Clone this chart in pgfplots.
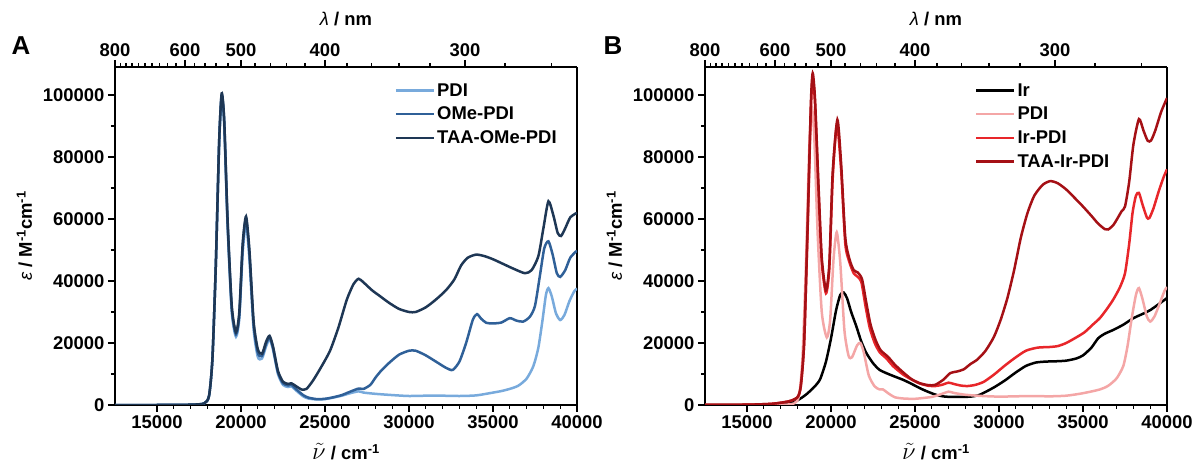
\documentclass[border=0pt]{standalone}
\usepackage{pgfplots}
\pgfplotsset{compat=1.18}
\usepackage{fontspec}
\setmainfont{Liberation Sans}
\definecolor{pdiA}{HTML}{78AADC}
\definecolor{omeA}{HTML}{2F6098}
\definecolor{taaA}{HTML}{1E3755}
\definecolor{pdiB}{HTML}{F4A6A6}
\definecolor{irpdi}{HTML}{E8262A}
\definecolor{taaB}{HTML}{A51015}
\newcommand{\fs}{\bfseries\fontsize{18.5}{20}\selectfont}
\pgfplotsset{
  mainax/.style={
    anchor=south west, width=462bp, height=338bp, scale only axis,
    xmin=12500, xmax=40000, ymin=0, ymax=109000,
    xtick={15000,20000,25000,30000,35000,40000},
    xticklabels={15000,20000,25000,30000,35000,40000},
    minor x tick num=4,
    ytick={0,20000,40000,60000,80000,100000},
    yticklabels={0,20000,40000,60000,80000,100000},
    minor y tick num=1,
    tick pos=left, tick align=outside,
    major tick length=7bp, minor tick length=4bp,
    scaled ticks=false,
    tick label style={font=\fs},
    label style={font=\fs},
    every tick/.style={black, line width=1.3bp},
    separate axis lines,
    axis line style={line width=1.8bp},
    xlabel={{\fontsize{23}{24}\selectfont$\tilde{\nu}$} / cm\textsuperscript{-1}},
    xlabel style={at={(axis description cs:0.5,-0.138)}, anchor=center},
    ylabel={{\mdseries\itshape ε} / M\textsuperscript{-1}cm\textsuperscript{-1}},
    ylabel style={at={(axis description cs:-0.196,0.5)}, anchor=center, rotate=0},
    legend style={draw=none, fill=none, font=\fs, row sep=5.5bp, inner sep=0pt, cells={anchor=west}},
    legend image code/.code={\draw[##1, line width=2.5bp] (0bp,0bp) -- (38bp,0bp);},
  },
  topax/.style={
    anchor=south west, width=462bp, height=338bp, scale only axis,
    xmin=12500, xmax=40000, ymin=0, ymax=1,
    axis x line*=top, axis y line=none,
    scaled ticks=false,
    xtick={12500,16666.67,20000,25000,33333.33},
    xticklabels={800,600,500,400,300},
    minor xtick={12820.5,13157.9,13513.5,13888.9,14285.7,14705.9,15151.5,15625,16129,17241.4,17857.1,18518.5,19230.8,20833.3,21739.1,22727.3,23809.5,26315.8,27777.8,29411.8,31250,35714.3,38461.5},
    tick align=outside,
    major tick length=7bp, minor tick length=4bp,
    tick label style={font=\fs},
    label style={font=\fs},
    every tick/.style={black, line width=1.3bp},
    axis line style={line width=1.8bp},
    xlabel={{\mdseries\itshape λ} / nm},
    xlabel style={at={(axis description cs:0.5,1.143)}, anchor=center},
  },
  cv/.style={line width=2.5bp, smooth, tension=0.4},
}
\begin{document}
\begin{tikzpicture}
\useasboundingbox (0bp,0bp) rectangle (1196bp,463bp);
% ---------------- Panel A
\begin{axis}[mainax, at={(115bp,58bp)}, legend style={at={(0.605,0.958)}, anchor=north west}]
\addplot[cv, pdiA] coordinates {
(12500,0)(15000,0)(17000,100)(17800,500)(18100,3000)(18300,15000)(18500,45000)(18700,84000)(18850,99500)(19000,90500)(19200,58000)(19450,30000)(19700,22000)(19900,28000)(20100,49000)(20300,58500)(20500,47000)(20750,24500)(21000,15500)(21250,15000)(21500,19000)(21700,21200)(21900,18000)(22200,10000)(22500,6500)(22800,5800)(23000,6000)(23300,4600)(23700,2800)(24000,2100)(24500,1800)(25000,1900)(25500,2400)(26000,3000)(26500,3800)(27000,4400)(27300,4000)(28000,3600)(29000,3200)(30000,2900)(31000,3000)(32000,3000)(33000,2900)(34000,3100)(35000,4000)(35500,4500)(36000,5200)(36500,6200)(37000,8500)(37400,12500)(37700,18500)(37950,27500)(38150,35500)(38300,37700)(38500,35000)(38750,29500)(39000,27400)(39250,29000)(39550,33500)(39850,36800)(40000,37500)};
\addlegendentry{PDI}
\addplot[cv, omeA] coordinates {
(12500,0)(15000,0)(17000,100)(17800,500)(18100,3000)(18300,15000)(18500,45000)(18700,85000)(18850,100000)(19000,91500)(19200,59000)(19450,31000)(19700,22800)(19900,29000)(20100,51000)(20300,60000)(20500,49000)(20750,26000)(21000,16800)(21250,15800)(21500,19800)(21700,21800)(21900,18500)(22200,10500)(22500,7000)(22800,6300)(23000,6500)(23300,5000)(23700,3200)(24000,2400)(24500,1900)(25000,2000)(25500,2500)(26000,3200)(26500,4300)(27000,5300)(27300,5200)(27700,6500)(28000,8800)(28300,10800)(28800,13500)(29400,16200)(30000,17500)(30400,17500)(31000,16000)(31600,14000)(32200,12000)(32600,11300)(33000,14000)(33400,20000)(33800,27500)(34050,29300)(34300,27800)(34600,26500)(35000,26300)(35500,26600)(36000,28000)(36400,27200)(36800,26900)(37200,28500)(37500,32000)(37800,42000)(38050,50500)(38300,52800)(38550,48500)(38800,42500)(39000,41300)(39300,43500)(39600,47500)(40000,49800)};
\addlegendentry{OMe-PDI}
\addplot[cv, taaA] coordinates {
(12500,0)(15000,0)(17000,100)(17800,500)(18100,3000)(18300,15000)(18500,45000)(18700,85000)(18850,100500)(19000,92000)(19200,60000)(19450,32000)(19700,23500)(19900,30000)(20100,52000)(20300,60800)(20500,50000)(20750,27000)(21000,18000)(21250,16500)(21500,20500)(21700,22300)(21900,19000)(22200,11000)(22500,7500)(22800,6800)(23000,7000)(23300,6000)(23600,5000)(23900,5200)(24300,8000)(24800,12500)(25300,17500)(25800,25000)(26300,34000)(26700,39000)(27000,40700)(27300,39500)(27800,37000)(28300,35000)(28800,33000)(29400,31000)(30000,30000)(30400,30000)(31000,31500)(31600,34000)(32200,37000)(32700,40500)(33100,45000)(33500,47500)(34000,48500)(34500,48000)(35000,47000)(35600,45500)(36200,44000)(36900,42500)(37300,43500)(37700,48000)(38000,57000)(38300,65700)(38600,61000)(38850,55500)(39050,54500)(39300,57000)(39600,60500)(40000,62000)};
\addlegendentry{TAA-OMe-PDI}
\end{axis}
\begin{axis}[topax, at={(115bp,58bp)}]
\addplot[draw=none] coordinates {(20000,0.5)};
\end{axis}
% ---------------- Panel B
\begin{axis}[mainax, at={(705bp,58bp)}, legend style={at={(0.584,0.958)}, anchor=north west}]
\addplot[cv, black] coordinates {
(12500,0)(16000,100)(17000,300)(17500,700)(18000,1500)(18500,3300)(19000,5800)(19350,8300)(19700,14000)(20000,21500)(20300,30500)(20550,35500)(20750,36300)(20950,34500)(21200,30000)(21500,25500)(21800,20500)(22100,16800)(22500,13500)(22900,11300)(23500,9800)(24300,8100)(24800,6800)(25300,5400)(25800,4200)(26300,3200)(26800,2700)(27500,2600)(28300,2700)(28800,3200)(29300,4500)(29800,6000)(30400,8100)(31000,10500)(31600,12600)(32200,13700)(32800,14000)(33400,14100)(34000,14300)(34600,15000)(35000,16000)(35500,18500)(35900,21500)(36300,23000)(36800,24200)(37400,25900)(38000,28000)(38600,29500)(39000,30600)(39500,32500)(40000,34500)};
\addlegendentry{Ir}
\addplot[cv, pdiB] coordinates {
(12500,0)(17000,100)(17800,500)(18100,3000)(18300,15000)(18500,44000)(18700,82000)(18850,96000)(19000,87000)(19200,56000)(19450,30000)(19750,21800)(19950,27500)(20150,47000)(20340,55700)(20550,46000)(20800,24000)(21050,15800)(21250,15400)(21550,19200)(21750,20000)(21950,17000)(22250,9500)(22600,6000)(22900,5000)(23100,5000)(23400,3800)(23800,2500)(24300,2100)(25000,2000)(26000,2600)(26500,3400)(27000,4300)(27300,3900)(28000,3300)(29000,2900)(30000,2700)(31000,2800)(32000,2900)(33000,2800)(34000,3000)(35000,3800)(36000,5000)(36500,6200)(37000,8600)(37400,12600)(37650,19000)(37900,28000)(38150,35500)(38330,37700)(38550,34000)(38800,28500)(39000,26900)(39250,28500)(39550,32500)(39850,36800)(40000,38000)};
\addlegendentry{PDI}
\addplot[cv, irpdi] coordinates {
(12500,0)(15000,100)(16500,400)(17500,1200)(18000,2500)(18200,6000)(18400,20000)(18600,55000)(18800,95000)(18910,105500)(19050,97000)(19250,70000)(19450,46000)(19700,36000)(19900,44000)(20100,73000)(20350,90500)(20600,76000)(20850,52000)(21100,46000)(21350,42500)(21550,41500)(21800,39800)(22050,32000)(22300,25000)(22600,20000)(22900,17000)(23300,15000)(23700,12500)(24300,9800)(24800,8200)(25300,6900)(25800,6200)(26200,6100)(26600,6500)(27000,7200)(27300,6800)(27700,6300)(28100,6100)(28600,6500)(29100,7500)(29700,9800)(30300,12500)(30900,15000)(31600,17500)(32300,18500)(33000,18700)(33500,19000)(34000,20000)(34600,21800)(35100,23500)(35600,26000)(36000,28000)(36400,30800)(36800,34000)(37200,38000)(37500,42500)(37750,52000)(37950,62000)(38150,67500)(38330,68400)(38550,64500)(38800,60500)(38950,60300)(39200,63500)(39500,68800)(39800,73500)(40000,76000)};
\addlegendentry{Ir-PDI}
\addplot[cv, taaB] coordinates {
(12500,0)(15000,100)(16500,400)(17500,1200)(18000,2500)(18200,6000)(18400,20000)(18600,56000)(18800,97000)(18910,107000)(19050,98500)(19250,71500)(19450,47500)(19700,37000)(19900,45500)(20100,75000)(20380,92000)(20600,78000)(20850,54000)(21100,47000)(21350,43500)(21600,42700)(21850,40500)(22100,33000)(22350,26000)(22650,21000)(22950,17700)(23400,15500)(23800,13000)(24300,10500)(24800,8300)(25300,7000)(25800,6400)(26200,6500)(26700,8200)(27100,10300)(27500,10800)(27900,11500)(28300,13200)(28700,14600)(29200,17500)(29700,22000)(30100,27500)(30500,34500)(30900,43500)(31300,54000)(31700,62000)(32100,67500)(32600,71000)(33050,72200)(33500,71500)(34000,69500)(34500,66800)(35000,64000)(35500,61000)(35900,58500)(36300,56700)(36500,56600)(36800,58000)(37000,59700)(37300,62500)(37500,64000)(37750,72000)(38000,84000)(38330,92200)(38600,88500)(38850,85200)(39050,85300)(39300,88500)(39650,94500)(40000,99000)};
\addlegendentry{TAA-Ir-PDI}
\end{axis}
\begin{axis}[topax, at={(705bp,58bp)}]
\addplot[draw=none] coordinates {(20000,0.5)};
\end{axis}
\node[font=\bfseries\fontsize{26}{28}\selectfont] at (21bp,417bp) {A};
\node[font=\bfseries\fontsize{26}{28}\selectfont] at (613bp,417bp) {B};
\end{tikzpicture}
\end{document}
